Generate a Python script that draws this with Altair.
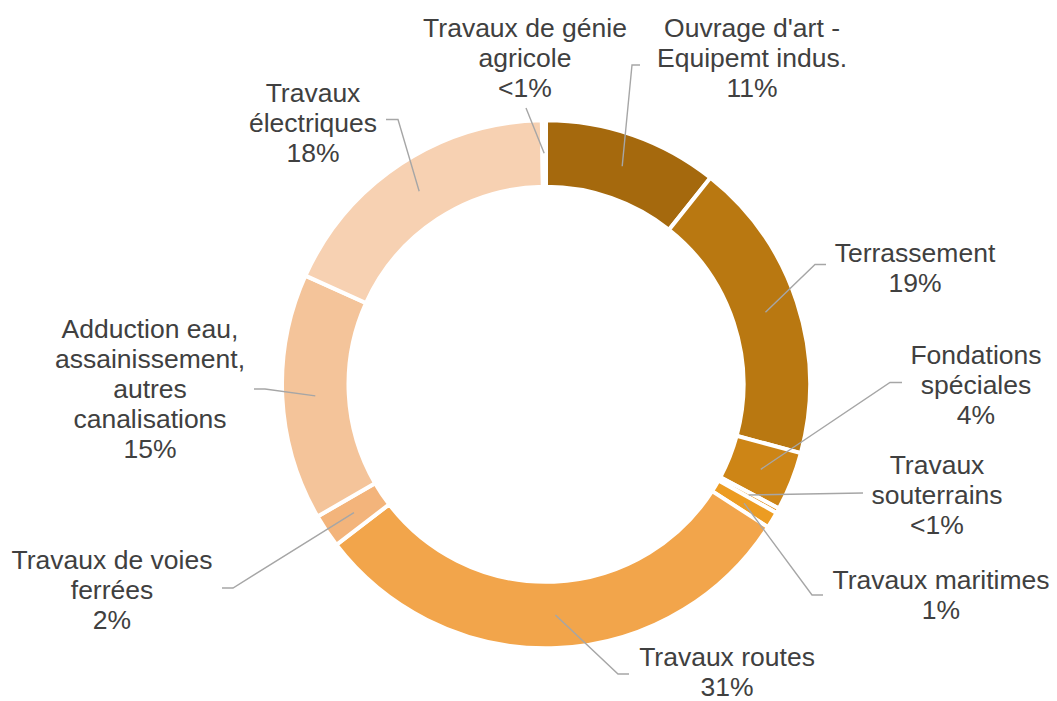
import math
import altair as alt
import pandas as pd

# ---------------- data ----------------
categories = [
    "Ouvrage d'art - Equipemt indus.",
    "Terrassement",
    "Fondations spéciales",
    "Travaux souterrains",
    "Travaux maritimes",
    "Travaux routes",
    "Travaux de voies ferrées",
    "Adduction eau, assainissement, autres canalisations",
    "Travaux électriques",
    "Travaux de génie agricole",
]
values = [10.7, 18.5, 3.6, 0.3, 1.0, 30.5, 2.05, 15.1, 18.0, 0.25]
pct_labels = ["11%", "19%", "4%", "<1%", "1%", "31%", "2%", "15%", "18%", "<1%"]
label_lines = [
    ["Ouvrage d'art -", "Equipemt indus."],
    ["Terrassement"],
    ["Fondations", "spéciales"],
    ["Travaux", "souterrains"],
    ["Travaux maritimes"],
    ["Travaux routes"],
    ["Travaux de voies", "ferrées"],
    ["Adduction eau,", "assainissement,", "autres", "canalisations"],
    ["Travaux", "électriques"],
    ["Travaux de génie", "agricole"],
]

# ---------------- styles ----------------
colors = ["#A5690D", "#B97811", "#CD8516", "#E08F1A", "#EC9C22",
          "#F2A54B", "#F3B47B", "#F4C49A", "#F7D1B2", "#F9DDC8"]
TEXT_COLOR = "#404040"
LEADER_COLOR = "#A6A6A6"
FONT = "Liberation Sans"

# ---------------- layout (reference image coordinates) ----------------
PLOT_W, PLOT_H = 1041, 693
CENTER = (546.0, 384.3)          # donut centre on the page
R_OUT, R_IN, R_LEADER = 264, 197.5, 231
# label anchor: centre x, first-line baseline y
label_anchor = [(752, 36.5), (915, 261.5), (976, 363.5), (937, 473.5), (941, 588.5),
                (727, 666), (112, 568.5), (150, 337.5), (313, 102), (525, 36.5)]
# leader line bend / end points
leader_tail = [
    [(632, 65), (640, 65)],
    [(815, 264.5), (826, 264.5)],
    [(890, 382.5), (902, 382.5)],
    [(863, 493)],
    [(812, 595), (823, 595)],
    [(618, 674), (629, 674)],
    [(233, 588), (222, 588)],
    [(265, 389), (254, 389)],
    [(398, 119.5), (386, 119.5)],
    [(526, 108)],
]

# coordinates centred on the donut, y pointing up
x0 = CENTER[0] - 8
y0 = CENTER[1] - 8
xs = alt.Scale(domain=[-x0, PLOT_W - x0], range=[0, PLOT_W], nice=False, zero=False)
ys = alt.Scale(domain=[y0 - PLOT_H, y0], range=[PLOT_H, 0], nice=False, zero=False)


def to_c(pt):
    return pt[0] - CENTER[0], CENTER[1] - pt[1]


total = sum(values)
cum = [sum(values[:i]) for i in range(len(values))]
df = pd.DataFrame({
    "cat": categories,
    "t0": cum,
    "t1": [c + v for c, v in zip(cum, values)],
})

rows_txt = []
rows_line = []
for i, cat in enumerate(categories):
    lx, ly = to_c(label_anchor[i])
    rows_txt.append({"cat": cat, "lx": lx, "ly": ly,
                     "label": "\n".join(label_lines[i] + [pct_labels[i]])})
    a = 2 * math.pi * (cum[i] + values[i] / 2) / total
    pts = [(R_LEADER * math.sin(a), R_LEADER * math.cos(a))] + [to_c(p) for p in leader_tail[i]]
    for k, (px, py) in enumerate(pts):
        rows_line.append({"cat": cat, "seq": k, "px": px, "py": py})

df_txt = pd.DataFrame(rows_txt)
df_line = pd.DataFrame(rows_line)

arcs = alt.Chart(df).mark_arc(
    outerRadius=R_OUT, innerRadius=R_IN, stroke="white", strokeWidth=4
).encode(
    theta=alt.Theta("t0:Q", stack=None,
                    scale=alt.Scale(domain=[0, total], range=[0, 2 * math.pi])),
    theta2="t1:Q",
    color=alt.Color("cat:N", scale=alt.Scale(domain=categories, range=colors), legend=None),
    x=alt.value(x0),
    y=alt.value(y0),
)

leaders = alt.Chart(df_line).mark_line(
    color=LEADER_COLOR, strokeWidth=1.4
).encode(
    x=alt.X("px:Q", scale=xs, axis=None),
    y=alt.Y("py:Q", scale=ys, axis=None),
    detail="cat:N",
    order="seq:Q",
)

labels = alt.Chart(df_txt).mark_text(
    lineBreak="\n", align="center", baseline="alphabetic",
    font=FONT, fontSize=26.5, lineHeight=30, color=TEXT_COLOR
).encode(
    x=alt.X("lx:Q", scale=xs, axis=None),
    y=alt.Y("ly:Q", scale=ys, axis=None),
    text="label:N",
)

chart = alt.layer(arcs, leaders, labels).properties(
    width=PLOT_W, height=PLOT_H, autosize="none", padding=0
).configure_view(stroke=None)

chart.save("out.html", embed_options={"renderer": "svg", "actions": False})
